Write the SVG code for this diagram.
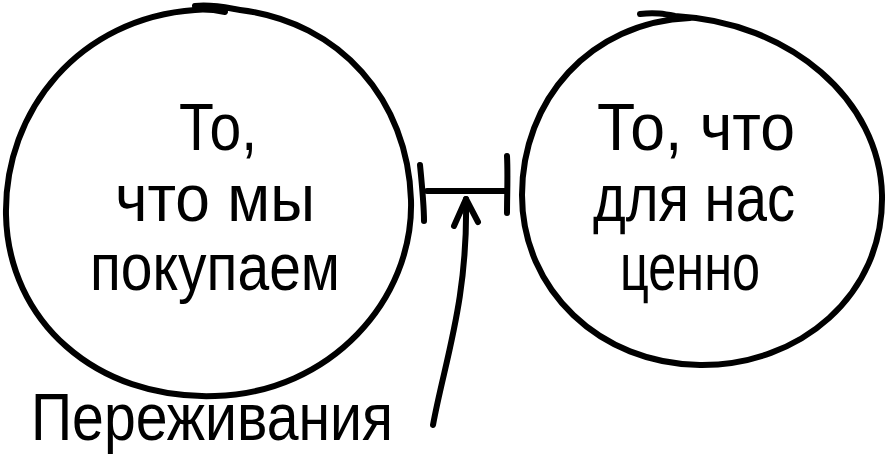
<svg xmlns="http://www.w3.org/2000/svg" width="886" height="459" viewBox="0 0 886 459">
<style>
.s{fill:none;stroke:#000;stroke-width:6;stroke-linecap:round;stroke-linejoin:round}
.t{font-family:"Liberation Sans","DejaVu Sans",sans-serif;font-size:66px;fill:#000;text-anchor:middle}
</style>
<rect width="886" height="459" fill="#fff"/>
<g id="node-left">
<path class="s" d="M195,6 C215,4 232,9 240,10 C340,22 408,100 411,200 C414,300 330,393 215,396 C95,400 8,320 6,215 C4,110 80,18 195,10 C205,9 215,10 225,12"/>
<text class="t" x="218" y="150" textLength="78" lengthAdjust="spacingAndGlyphs">То,</text>
<text class="t" x="215" y="221" textLength="200" lengthAdjust="spacingAndGlyphs">что мы</text>
<text class="t" x="215" y="290" textLength="250" lengthAdjust="spacingAndGlyphs">покупаем</text>
</g>
<g id="node-right">
<path class="s" d="M640,14 C655,12 665,14 675,16 C790,22 880,100 882,195 C884,295 800,366 700,365 C600,364 522,290 522,195 C522,100 590,22 690,18"/>
<text class="t" x="696" y="150" textLength="198" lengthAdjust="spacingAndGlyphs">То, что</text>
<text class="t" x="694" y="221" textLength="202" lengthAdjust="spacingAndGlyphs">для нас</text>
<text class="t" x="690" y="290" textLength="140" lengthAdjust="spacingAndGlyphs">ценно</text>
</g>
<g id="label">
<text class="t" x="212" y="440" font-size="66" textLength="362" lengthAdjust="spacingAndGlyphs">Переживания</text>
</g>
<g id="connectors">
<path class="s" d="M420,165 C422,185 424,205 424,221"/>
<path class="s" d="M427,191 L507,191" stroke-width="8"/>
<path class="s" d="M507,156 C508,175 507,195 507,213"/>
<path class="s" d="M433,425 C445,360 468,300 466,199"/>
<path class="s" d="M454,226 L466,199 L478,222"/>
</g>
</svg>
